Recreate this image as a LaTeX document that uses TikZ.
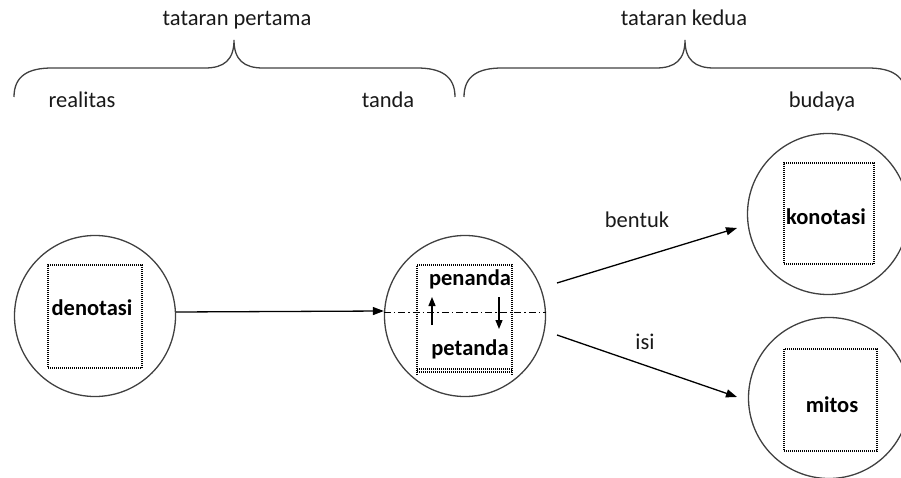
\documentclass[tikz,border=0pt]{standalone}
\usepackage{fontspec}
\setmainfont{Carlito}
\usetikzlibrary{arrows.meta}
\begin{document}
\begin{tikzpicture}[x=1pt,y=-1pt,
  ring/.style={circle, draw=black!75, line width=1.3pt, minimum size=161pt, inner sep=0pt},
  box/.style={draw=black, dash pattern=on 1pt off 1pt, line width=1.1pt, inner sep=0pt},
  lbl/.style={font=\fontsize{22.5}{26}\selectfont, text=black!90, inner sep=0pt, anchor=base},
  blbl/.style={font=\fontsize{22.5}{26}\selectfont\bfseries, text=black, inner sep=0pt, anchor=base},
  arr/.style={-{Triangle[length=11pt,width=8pt]}, line width=1.3pt},
  brace/.style={draw=black!75, line width=1.3pt}]
\useasboundingbox (0,0) rectangle (901,478);

% braces
\draw[brace] (14,97) .. controls (14,76) and (28,68) .. (52,68) -- (205,68)
  .. controls (224,68) and (234,60) .. (234,40)
  .. controls (234,60) and (244,68) .. (263,68) -- (417,68)
  .. controls (441,68) and (455,76) .. (455,97);
\draw[brace] (464,97) .. controls (464,76) and (478,68) .. (502,68) -- (656,68)
  .. controls (675,68) and (685,60) .. (685,40)
  .. controls (685,60) and (695,68) .. (714,68) -- (868,68)
  .. controls (892,68) and (906,76) .. (906,97);

% top labels
\node[lbl] (tp) at (237,26) {tataran pertama};
\node[lbl] (tk) at (684,26) {tataran kedua};
\node[lbl] (re) at (82,108) {realitas};
\node[lbl] (ta) at (388,108) {tanda};
\node[lbl] (bu) at (822,108) {budaya};

% circles
\node[ring] (c1) at (95,316) {};
\node[ring] (c2) at (465,316) {};
\node[ring] (c3) at (828,214) {};
\node[ring] (c4) at (829,398) {};

% boxes
\node[box, minimum width=94pt, minimum height=103pt] (b1) at (95,316.5) {};
\node[box, minimum width=90pt, minimum height=101pt] (b3) at (829,213.5) {};
\node[box, minimum width=93pt, minimum height=102pt] (b4) at (830.5,400) {};
\draw[box] (417,375) -- (417,265) -- (512,265) -- (512,375);
\draw[box] (417,369) -- (512,369);
\draw[box] (417,372) -- (512,372);

% inner labels
\node[blbl] (den) at (92,315) {denotasi};
\node[blbl] (kon) at (826,225) {konotasi};
\node[blbl] (mit) at (832,412) {mitos};
\node[blbl] (pen) at (470,285) {penanda};
\node[blbl] (pet) at (470,355) {petanda};

% dash-dot line
\draw[line width=1pt, dash pattern=on 7pt off 3pt on 1.5pt off 3pt] (c2.west |- 0,312) -- (c2.east |- 0,312);

% small arrows
\coordinate (u1) at (432,325);
\coordinate (u2) at (432,297);
\coordinate (d1) at (499,297);
\coordinate (d2) at (499,329);
\draw[-{Triangle[length=9pt,width=7pt]}, line width=1.2pt] (u1) -- (u2);
\draw[-{Triangle[length=9pt,width=7pt]}, line width=1.2pt] (d1) -- (d2);

% main arrows
\draw[arr] (c1.east |- 0,312) -- (c2.west |- 0,311);
\coordinate (s1) at (557,283);
\coordinate (e1) at (737,228);
\coordinate (s2) at (557,335);
\coordinate (e2) at (737,397);
\draw[arr] (s1) -- (e1);
\draw[arr] (s2) -- (e2);
\node[lbl] (bt) at (637,228) {bentuk};
\node[lbl] (is) at (645,349) {isi};
\end{tikzpicture}
\end{document}
